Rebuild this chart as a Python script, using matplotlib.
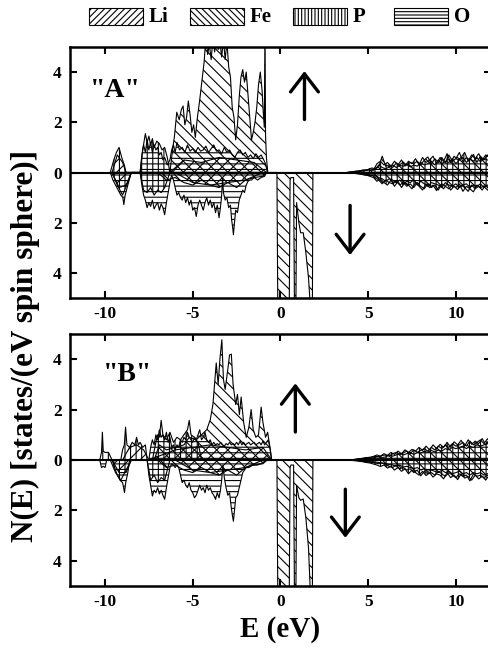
import matplotlib
matplotlib.use("Agg")
import matplotlib.pyplot as plt
import numpy as np
from matplotlib.patches import Rectangle

plt.rcParams['font.family'] = ['Liberation Serif', 'DejaVu Serif']
plt.rcParams['font.weight'] = 'bold'
plt.rcParams['hatch.linewidth'] = 0.8

# ---------------- panel "A" ----------------
# Fe (spin up / spin down)
e_fe_up_a = [-6.3, -6.15, -6.04, -5.91, -5.77, -5.65, -5.55, -5.45, -5.35, -5.25, -5.15, -5.05,
             -4.95, -4.85, -4.75, -4.6, -4.45, -4.35, -4.25, -4.15, -4.05, -3.95, -3.85, -3.75,
             -3.65, -3.55, -3.45, -3.35, -3.25, -3.15, -3.05, -2.95, -2.85, -2.75, -2.65, -2.55,
             -2.45, -2.35, -2.25, -2.15, -2.05, -1.95, -1.85, -1.75, -1.65, -1.55, -1.45, -1.35,
             -1.25, -1.15, -1.05, -0.98, -0.92, -0.88, -0.85, -0.8, -0.72]
n_fe_up_a = [0.0, 0.9, 1.45, 2.4, 2.1, 2.5, 2.65, 1.9, 2.2, 2.85, 2.3, 1.6,
             1.9, 1.4, 2.1, 2.9, 3.8, 4.4, 5.4, 4.7, 5.1, 4.5, 5.3, 4.8,
             5.6, 4.9, 5.2, 4.6, 5.3, 4.5, 5.2, 4.2, 3.8, 2.6, 2.2, 1.3,
             1.9, 3.0, 3.8, 4.1, 3.6, 4.0, 3.1, 2.2, 1.3, 1.6, 2.0, 2.6,
             3.5, 4.0, 3.3, 2.4, 1.8, 6.0, 1.5, 0.6, 0.0]
e_fe_dn_a = [-7.0, -6.5, -6.0, -5.5, -5.0, -4.5, -4.0, -3.5, -3.0, -2.5, -2.0, -1.5, -1.0, -0.75,
             -0.2, -0.15, 0.1, 0.3, 0.5, 0.55, 0.6, 0.75, 0.8, 0.88, 0.92, 1.05, 1.15, 1.3, 1.45,
             1.6, 1.72, 1.82, 1.85]
n_fe_dn_a = [0.0, 0.3, 0.2, 0.4, 0.5, 0.3, 0.5, 0.6, 0.4, 0.6, 0.3, 0.2, 0.15, 0.0,
             0.0, 5.5, 5.5, 5.5, 5.5, 0.3, 0.2, 0.2, 5.5, 5.5, 1.2, 2.0, 2.4, 2.4, 3.2,
             4.2, 5.5, 5.5, 0.0]
# O
e_o_up_a = [-8.0, -7.9, -7.8, -7.7, -7.6, -7.5, -7.4, -7.3, -7.2, -7.1, -7.0, -6.9, -6.8, -6.7,
            -6.6, -6.45, -6.3, -6.2, -6.1, -6.0, -5.9, -5.75, -5.6, -5.45, -5.3, -5.15, -5.0,
            -4.85, -4.7, -4.55, -4.4, -4.25, -4.1, -3.95, -3.8, -3.65, -3.5, -3.35, -3.2,
            -3.05, -2.9, -2.75, -2.6, -2.45, -2.3, -2.15, -2.0, -1.85, -1.7, -1.55, -1.4,
            -1.25, -1.1, -0.95, -0.85, -0.75]
n_o_up_a = [0.0, 0.7, 1.1, 0.8, 1.3, 0.9, 1.2, 0.8, 1.1, 0.9, 1.0, 0.7, 0.8, 0.5,
            0.6, 0.3, 0.5, 0.9, 1.1, 0.8, 1.2, 0.9, 1.0, 0.8, 1.1, 0.85, 0.95,
            0.8, 1.0, 0.85, 0.9, 1.05, 0.8, 0.95, 1.1, 0.85, 0.9, 0.75, 1.0,
            0.8, 0.9, 0.7, 0.6, 0.8, 0.9, 0.7, 0.8, 0.6, 0.7, 0.55, 0.75,
            0.6, 0.7, 0.5, 0.35, 0.0]
e_o_dn_a = [-9.7, -9.55, -9.4, -9.25, -9.1, -8.98, -8.93, -8.85, -8.7, -8.5,
            -8.0, -7.9, -7.8, -7.7, -7.6, -7.5, -7.4, -7.3, -7.2, -7.1, -7.0, -6.9, -6.8, -6.7,
            -6.6, -6.5, -6.4, -6.3, -6.2,
            -6.1, -6.0, -5.9, -5.8, -5.7, -5.6, -5.5, -5.4, -5.3, -5.2, -5.1, -5.0, -4.9, -4.8,
            -4.7, -4.6, -4.5, -4.4, -4.3, -4.2, -4.1, -4.0, -3.9, -3.8, -3.7, -3.6, -3.5, -3.42,
            -3.35, -3.3,
            -3.25, -3.15, -3.05, -2.95, -2.85, -2.78, -2.72, -2.68, -2.62, -2.55, -2.45, -2.35,
            -2.25, -2.15, -2.05, -1.95, -1.85, -1.75, -1.65, -1.5, -1.3, -1.1, -0.9, -0.8]
n_o_dn_a = [0.0, 0.3, 0.5, 0.7, 0.9, 1.0, 1.28, 0.9, 0.5, 0.0,
            0.0, 0.5, 0.9, 1.1, 1.4, 1.2, 1.35, 1.1, 1.45, 1.3, 1.2, 1.5, 1.25, 1.4,
            1.68, 1.2, 0.8, 0.4, 0.1,
            0.3, 0.6, 0.9, 0.8, 1.0, 1.1, 0.9, 1.2, 1.0, 1.3, 1.1, 1.5, 1.4, 1.75,
            1.3, 1.1, 1.3, 1.5, 1.2, 1.0, 1.3, 1.1, 1.4, 1.2, 1.6, 1.3, 1.8, 1.4,
            0.9, 0.2,
            0.8, 1.1, 1.0, 1.4, 1.3, 1.9, 2.2, 2.48, 2.0, 1.5, 1.6, 1.1,
            0.9, 0.7, 0.8, 0.5, 0.35, 0.3, 0.3, 0.2, 0.3, 0.2, 0.15, 0.0]
# P
e_p_up_a = [-9.7, -9.5, -9.35, -9.2, -9.05, -8.9, -8.8, -8.0, -7.85, -7.7, -7.6, -7.5, -7.4,
            -7.3, -7.2, -7.05, -6.9, -6.75, -6.6, -6.45, -6.3]
n_p_up_a = [0.0, 0.5, 0.8, 1.0, 0.6, 0.3, 0.0, 0.0, 0.9, 1.55, 1.2, 1.45, 1.1,
            1.35, 1.0, 1.25, 1.15, 0.9, 1.0, 0.6, 0.0]
e_p_dn_a = [-9.6, -9.3, -9.0, -8.7, -8.5, -8.0, -7.8, -7.6, -7.4, -7.2, -7.0, -6.8, -6.6, -6.3]
n_p_dn_a = [0.0, 0.5, 0.9, 0.4, 0.0, 0.0, 0.7, 0.8, 0.6, 0.9, 0.7, 0.8, 0.6, 0.0]
# Li
e_li_up_a = [-9.6, -9.3, -9.0, -8.8, -6.3, -5.5, -4.5, -3.5, -2.5, -1.5, -0.8]
n_li_up_a = [0.0, 0.7, 0.4, 0.0, 0.0, 0.5, 0.4, 0.6, 0.5, 0.4, 0.0]
e_li_dn_a = [-9.6, -9.2, -8.8, -8.5, -6.0, -5.0, -4.0, -3.0, -2.0, -1.0]
n_li_dn_a = [0.0, 0.6, 0.5, 0.0, 0.0, 0.4, 0.5, 0.4, 0.3, 0.0]

# ---------------- panel "B" ----------------
e_fe_up_b = [-7.2, -6.9, -6.5, -6.0, -5.5, -5.2, -4.8, -4.5, -4.2, -4.0, -3.85, -3.76, -3.66,
             -3.55, -3.45, -3.34, -3.25, -3.15, -3.0, -2.9, -2.8, -2.7, -2.55, -2.45, -2.34,
             -2.24, -2.1, -1.95, -1.8, -1.67, -1.55, -1.4, -1.25, -1.1, -1.0, -0.85, -0.73,
             -0.6, -0.5]
n_fe_up_b = [0.0, 0.6, 0.4, 0.5, 0.6, 0.9, 0.8, 1.0, 1.2, 1.6, 2.2, 2.97, 3.85,
             3.0, 4.0, 4.77, 3.2, 2.8, 3.6, 4.17, 4.2, 3.0, 2.2, 2.6, 1.8,
             2.5, 1.5, 0.9, 1.3, 2.0, 1.2, 0.9, 1.0, 2.1, 1.5, 0.9, 1.1,
             0.5, 0.0]
e_fe_dn_b = [-7.0, -6.5, -6.0, -5.5, -5.0, -4.5, -4.0, -3.5, -3.0, -2.5, -2.0, -1.5, -1.0, -0.75,
             -0.2, -0.15, 0.1, 0.3, 0.5, 0.55, 0.6, 0.75, 0.8, 0.88, 0.92, 1.05, 1.15, 1.3, 1.45,
             1.6, 1.72, 1.82, 1.85]
n_fe_dn_b = [0.0, 0.3, 0.2, 0.4, 0.5, 0.3, 0.5, 0.6, 0.4, 0.6, 0.3, 0.2, 0.15, 0.0,
             0.0, 5.5, 5.5, 5.5, 5.5, 0.3, 0.2, 0.2, 5.5, 5.5, 1.0, 1.5, 1.6, 1.55, 2.3,
             3.5, 5.5, 5.5, 0.0]
e_o_up_b = np.round(np.arange(-7.5, -0.45, 0.1), 2)
n_o_up_b = [0.0, 0.5, 0.8, 0.6, 1.0, 0.8, 1.2, 0.9, 1.0, 0.8,
            1.1, 0.7, 0.9, 0.5, 0.6, 0.4, 0.6, 0.5, 0.8, 0.7,
            0.9, 0.8, 1.1, 0.9, 0.8, 0.7, 0.9, 0.8, 1.0, 1.2,
            0.8, 0.9, 1.1, 0.8, 0.7, 0.8, 0.6, 0.7, 0.6, 0.65,
            0.6, 0.7, 0.6, 0.55, 0.65, 0.6, 0.7, 0.6, 0.65, 0.6,
            0.7, 0.6, 0.75, 0.6, 0.7, 0.6, 0.65, 0.7, 0.6, 0.65,
            0.7, 0.6, 0.65, 0.7, 0.6, 0.75, 0.6, 0.7, 0.8, 0.5,
            0.0]
e_o_dn_b = [-10.3, -10.2, -10.1, -10.0, -9.9,
            -9.6, -9.45, -9.3, -9.15, -9.0, -8.94, -8.89, -8.82, -8.7, -8.6,
            -7.6, -7.5, -7.4, -7.3, -7.2, -7.1, -7.0, -6.9, -6.8, -6.7, -6.6, -6.5, -6.4, -6.3,
            -6.2, -6.1, -6.0, -5.9, -5.8,
            -5.7, -5.6, -5.5, -5.4, -5.3, -5.2, -5.1, -5.0, -4.9, -4.8, -4.7, -4.6, -4.5, -4.4,
            -4.3, -4.2, -4.1, -4.0, -3.9, -3.8, -3.7, -3.6, -3.5, -3.42, -3.35, -3.28,
            -3.2, -3.1, -3.0, -2.9, -2.8, -2.74, -2.68, -2.62, -2.55, -2.45, -2.35, -2.25,
            -2.15, -2.05, -1.95, -1.8, -1.6, -1.3, -1.0, -0.8]
n_o_dn_b = [0.0, 0.3, 0.25, 0.3, 0.0,
            0.0, 0.3, 0.6, 0.8, 0.9, 1.1, 1.29, 0.9, 0.5, 0.0,
            0.0, 0.6, 1.0, 1.43, 1.2, 1.3, 1.1, 1.35, 1.2, 1.4, 1.56, 1.1, 0.7, 0.3,
            0.15, 0.2, 0.3, 0.2, 0.3,
            0.6, 0.9, 0.8, 1.0, 1.1, 0.9, 1.2, 1.3, 1.5, 1.4, 1.2, 1.0, 1.2, 1.1,
            1.3, 1.0, 1.2, 1.1, 1.3, 1.4, 1.56, 1.3, 1.5, 1.2, 0.8, 0.2,
            0.7, 1.1, 1.4, 1.3, 1.9, 2.2, 2.43, 2.0, 1.5, 1.4, 1.1, 0.8,
            0.5, 0.4, 0.3, 0.3, 0.2, 0.2, 0.1, 0.0]
e_p_up_b = [-10.3, -10.2, -10.15, -10.1, -10.0, -9.8, -9.6, -9.1, -9.0, -8.9, -8.83, -8.75,
            -8.6, -8.45, -8.3, -8.2, -8.1, -8.0, -7.85, -7.7, -7.6, -7.3, -7.1, -7.0, -6.9,
            -6.8, -6.7, -6.5, -6.3, -6.1, -5.9, -5.7, -5.5, -5.3, -5.2, -5.1, -4.9, -4.7, -4.5]
n_p_up_b = [0.0, 0.3, 1.1, 0.35, 0.3, 0.3, 0.0, 0.0, 0.4, 0.6, 1.3, 0.6,
            0.5, 0.7, 0.6, 0.9, 0.6, 0.7, 0.5, 0.6, 0.0, 0.0, 0.7, 1.0, 0.9,
            1.57, 1.0, 0.8, 1.1, 0.7, 0.9, 0.8, 1.0, 1.2, 1.57, 1.0, 0.9, 0.7, 0.0]
e_p_dn_b = [-9.7, -9.4, -9.1, -8.8, -8.5, -7.6, -7.4, -7.2, -7.0, -6.8, -6.6, -6.3]
n_p_dn_b = [0.0, 0.5, 0.8, 0.4, 0.0, 0.0, 0.8, 0.6, 0.9, 0.7, 0.8, 0.0]
e_li_up_b = [-9.0, -8.6, -8.2, -7.8, -7.5, -6.0, -5.0, -4.0, -3.0, -2.0, -1.0, -0.5]
n_li_up_b = [0.0, 0.5, 0.6, 0.4, 0.0, 0.4, 0.5, 0.6, 0.5, 0.4, 0.5, 0.0]
e_li_dn_b = [-9.6, -9.2, -8.8, -8.5, -6.0, -5.0, -4.0, -3.0, -2.0, -1.0]
n_li_dn_b = [0.0, 0.5, 0.5, 0.0, 0.0, 0.4, 0.5, 0.4, 0.3, 0.0]

# ---------------- conduction band (E > 4 eV) ----------------
e_cb = np.round(np.arange(3.8, 12.01, 0.2), 2)
e_cb2 = np.round(np.arange(3.9, 12.11, 0.2), 2)
fe_cb_up_a = [0.0, 0.02, 0.04, 0.06, 0.08, 0.1, 0.12, 0.18, 0.15, 0.22, 0.65, 0.25, 0.3, 0.2,
              0.38, 0.3, 0.42, 0.28, 0.4, 0.35, 0.45, 0.3, 0.5, 0.62, 0.35, 0.55, 0.4, 0.6,
              0.38, 0.7, 0.45, 0.55, 0.8, 0.42, 0.6, 0.5, 0.72, 0.4, 0.65, 0.5, 0.7, 0.55]
o_cb_up_a = [0.0, 0.01, 0.02, 0.04, 0.05, 0.07, 0.1, 0.08, 0.12, 0.3, 0.2, 0.15, 0.22, 0.3,
             0.2, 0.28, 0.25, 0.35, 0.22, 0.3, 0.25, 0.4, 0.3, 0.35, 0.45, 0.3, 0.5, 0.35,
             0.45, 0.4, 0.55, 0.35, 0.5, 0.6, 0.4, 0.55, 0.45, 0.6, 0.42, 0.55, 0.5, 0.45]
p_cb_up_a = [0.0, 0.03, 0.05, 0.05, 0.1, 0.08, 0.15, 0.1, 0.35, 0.45, 0.3, 0.4, 0.25, 0.45,
             0.3, 0.5, 0.25, 0.45, 0.35, 0.55, 0.3, 0.6, 0.4, 0.5, 0.65, 0.35, 0.6, 0.45,
             0.75, 0.4, 0.65, 0.5, 0.6, 0.8, 0.45, 0.7, 0.55, 0.75, 0.5, 0.7, 0.6, 0.5]
fe_cb_dn_a = [0.0, 0.01, 0.03, 0.05, 0.07, 0.1, 0.12, 0.1, 0.2, 0.3, 0.45, 0.3, 0.4, 0.45,
              0.35, 0.5, 0.4, 0.55, 0.45, 0.6, 0.4, 0.55, 0.65, 0.45, 0.6, 0.5, 0.7, 0.45,
              0.55, 0.65, 0.5, 0.6, 0.45, 0.75, 0.55, 0.65, 0.77, 0.5, 0.6, 0.55, 0.7, 0.6]
o_cb_dn_a = [0.0, 0.01, 0.02, 0.03, 0.05, 0.06, 0.08, 0.12, 0.1, 0.2, 0.25, 0.35, 0.25, 0.3,
             0.4, 0.3, 0.45, 0.35, 0.4, 0.3, 0.5, 0.35, 0.45, 0.55, 0.4, 0.45, 0.5, 0.6,
             0.4, 0.5, 0.55, 0.45, 0.6, 0.5, 0.45, 0.6, 0.5, 0.55, 0.45, 0.6, 0.5, 0.55]
p_cb_dn_a = [0.0, 0.02, 0.04, 0.05, 0.08, 0.1, 0.15, 0.2, 0.35, 0.25, 0.4, 0.5, 0.3, 0.55,
             0.35, 0.6, 0.4, 0.5, 0.65, 0.4, 0.55, 0.7, 0.45, 0.6, 0.5, 0.72, 0.5, 0.65,
             0.45, 0.7, 0.55, 0.68, 0.5, 0.6, 0.75, 0.5, 0.65, 0.55, 0.7, 0.5, 0.65, 0.6]
fe_cb_up_b = [0.0, 0.01, 0.02, 0.04, 0.06, 0.08, 0.1, 0.12, 0.15, 0.12, 0.18, 0.2, 0.15, 0.25,
              0.3, 0.22, 0.28, 0.35, 0.25, 0.4, 0.3, 0.38, 0.45, 0.35, 0.5, 0.4, 0.55, 0.45,
              0.6, 0.5, 0.65, 0.55, 0.6, 0.7, 0.55, 0.75, 0.6, 0.7, 0.8, 0.65, 0.84, 0.7]
o_cb_up_b = [0.0, 0.01, 0.01, 0.02, 0.04, 0.05, 0.07, 0.08, 0.1, 0.15, 0.1, 0.12, 0.2, 0.15,
             0.2, 0.25, 0.2, 0.25, 0.3, 0.22, 0.3, 0.28, 0.35, 0.3, 0.38, 0.32, 0.4, 0.35,
             0.45, 0.4, 0.5, 0.45, 0.5, 0.55, 0.45, 0.55, 0.5, 0.6, 0.55, 0.6, 0.65, 0.6]
p_cb_up_b = [0.0, 0.01, 0.03, 0.05, 0.06, 0.1, 0.08, 0.14, 0.2, 0.15, 0.25, 0.18, 0.3, 0.22,
             0.35, 0.25, 0.4, 0.3, 0.42, 0.35, 0.5, 0.38, 0.55, 0.4, 0.6, 0.45, 0.62, 0.5,
             0.7, 0.5, 0.72, 0.6, 0.78, 0.55, 0.8, 0.62, 0.75, 0.65, 0.85, 0.6, 0.8, 0.7]
fe_cb_dn_b = [0.0, 0.01, 0.02, 0.03, 0.05, 0.07, 0.08, 0.1, 0.12, 0.15, 0.12, 0.2, 0.25, 0.3,
              0.2, 0.35, 0.3, 0.4, 0.35, 0.5, 0.4, 0.63, 0.45, 0.55, 0.5, 0.6, 0.45, 0.55,
              0.65, 0.5, 0.6, 0.7, 0.55, 0.65, 0.6, 0.83, 0.55, 0.65, 0.6, 0.7, 0.6, 0.65]
o_cb_dn_b = [0.0, 0.01, 0.01, 0.02, 0.03, 0.05, 0.06, 0.07, 0.08, 0.1, 0.12, 0.15, 0.18, 0.2,
             0.25, 0.2, 0.28, 0.25, 0.3, 0.35, 0.3, 0.4, 0.35, 0.45, 0.4, 0.45, 0.5, 0.4,
             0.5, 0.45, 0.55, 0.5, 0.45, 0.55, 0.5, 0.6, 0.5, 0.55, 0.5, 0.6, 0.55, 0.5]
p_cb_dn_b = [0.0, 0.02, 0.03, 0.05, 0.07, 0.1, 0.12, 0.16, 0.2, 0.26, 0.2, 0.32, 0.25, 0.4,
             0.3, 0.45, 0.35, 0.55, 0.4, 0.5, 0.6, 0.45, 0.62, 0.5, 0.68, 0.55, 0.6, 0.75,
             0.5, 0.7, 0.6, 0.78, 0.55, 0.72, 0.65, 0.8, 0.6, 0.75, 0.65, 0.8, 0.6, 0.7]

xticks = [-10, -5, 0, 5, 10]
yticks = [-4, -2, 0, 2, 4]
ytick_labels = ['4', '2', '0', '2', '4']

labels = ['Li', 'Fe', 'P', 'O']
hatches = {'Li': '///', 'Fe': '\\\\\\', 'P': '|||', 'O': '---'}

panels = [
    dict(name='"A"', name_xy=(-9.4, 3.25), up_arrow=(1.37, 2.0, 4.15), dn_arrow=(3.97, -1.2, -3.4),
         data={'Fe': (e_fe_up_a, n_fe_up_a, e_fe_dn_a, n_fe_dn_a),
               'O': (e_o_up_a, n_o_up_a, e_o_dn_a, n_o_dn_a),
               'P': (e_p_up_a, n_p_up_a, e_p_dn_a, n_p_dn_a),
               'Li': (e_li_up_a, n_li_up_a, e_li_dn_a, n_li_dn_a)},
         cb={'Fe': (e_cb, fe_cb_up_a, fe_cb_dn_a), 'O': (e_cb, o_cb_up_a, o_cb_dn_a),
             'P': (e_cb2, p_cb_up_a, p_cb_dn_a)}),
    dict(name='"B"', name_xy=(-8.7, 3.4), up_arrow=(0.85, 1.0, 3.15), dn_arrow=(3.7, -1.05, -3.2),
         data={'Fe': (e_fe_up_b, n_fe_up_b, e_fe_dn_b, n_fe_dn_b),
               'O': (e_o_up_b, n_o_up_b, e_o_dn_b, n_o_dn_b),
               'P': (e_p_up_b, n_p_up_b, e_p_dn_b, n_p_dn_b),
               'Li': (e_li_up_b, n_li_up_b, e_li_dn_b, n_li_dn_b)},
         cb={'Fe': (e_cb, fe_cb_up_b, fe_cb_dn_b), 'O': (e_cb, o_cb_up_b, o_cb_dn_b),
             'P': (e_cb2, p_cb_up_b, p_cb_dn_b)}),
]

fig = plt.figure(figsize=(4.89, 6.49), dpi=100)
ax_a = fig.add_axes([0.143, 0.5408, 0.861, 0.3868])
ax_b = fig.add_axes([0.143, 0.0971, 0.861, 0.3883])

arrow_style = '->, head_length=1.3, head_width=1.0'

for ax, p in zip([ax_a, ax_b], panels):
    for el in ['Fe', 'O', 'P', 'Li']:
        eu, nu, ed, nd = p['data'][el]
        ax.fill_between(eu, 0, nu, facecolor='none', edgecolor='k', hatch=hatches[el], lw=0.8)
        ax.fill_between(ed, 0, -np.array(nd), facecolor='none', edgecolor='k', hatch=hatches[el], lw=0.8)
    for el in ['Fe', 'O', 'P']:
        ec, cu, cd = p['cb'][el]
        ax.fill_between(ec, 0, cu, facecolor='none', edgecolor='k', hatch=hatches[el], lw=0.8)
        ax.fill_between(ec, 0, -np.array(cd), facecolor='none', edgecolor='k', hatch=hatches[el], lw=0.8)
    ax.axhline(0, color='k', lw=1.5)
    ax.text(p['name_xy'][0], p['name_xy'][1], p['name'], fontsize=20, fontweight='bold',
            ha='center', va='center')
    for key in ['up_arrow', 'dn_arrow']:
        x, y0, y1 = p[key]
        ax.annotate('', xy=(x, y1), xytext=(x, y0),
                    arrowprops=dict(arrowstyle=arrow_style, lw=2.4, color='k'))
    ax.set_xlim(-12, 12)
    ax.set_ylim(-5, 5)
    ax.set_xticks(xticks)
    ax.set_xticklabels([str(t) for t in xticks])
    ax.set_yticks(yticks)
    ax.set_yticklabels(ytick_labels)
    ax.tick_params(direction='in', top=True, right=True, length=5, width=1.5, labelsize=12.5, pad=6)
    for s in ax.spines.values():
        s.set_linewidth(1.8)
    for lab in ax.get_xticklabels() + ax.get_yticklabels():
        lab.set_fontweight('bold')

ax_b.set_xlabel('E (eV)', fontsize=21, fontweight='bold', labelpad=4)
fig.text(0.052, 0.467, 'N(E) [states/(eV spin sphere)]', rotation=90, fontsize=22.5,
         fontweight='bold', ha='center', va='center')

# legend boxes at the top
box_x = [89, 190, 293, 394]
for bx, lab in zip(box_x, labels):
    h = hatches[lab][0] * 5
    fig.add_artist(Rectangle((bx / 489, 1 - 25 / 649), 54 / 489, 17 / 649, transform=fig.transFigure,
                             facecolor='white', edgecolor='k', hatch=h, lw=0.8))
    fig.text((bx + 60) / 489, 1 - 16.5 / 649, lab, fontsize=15, fontweight='bold', va='center', ha='left')

fig.savefig('out.png', dpi=100)
